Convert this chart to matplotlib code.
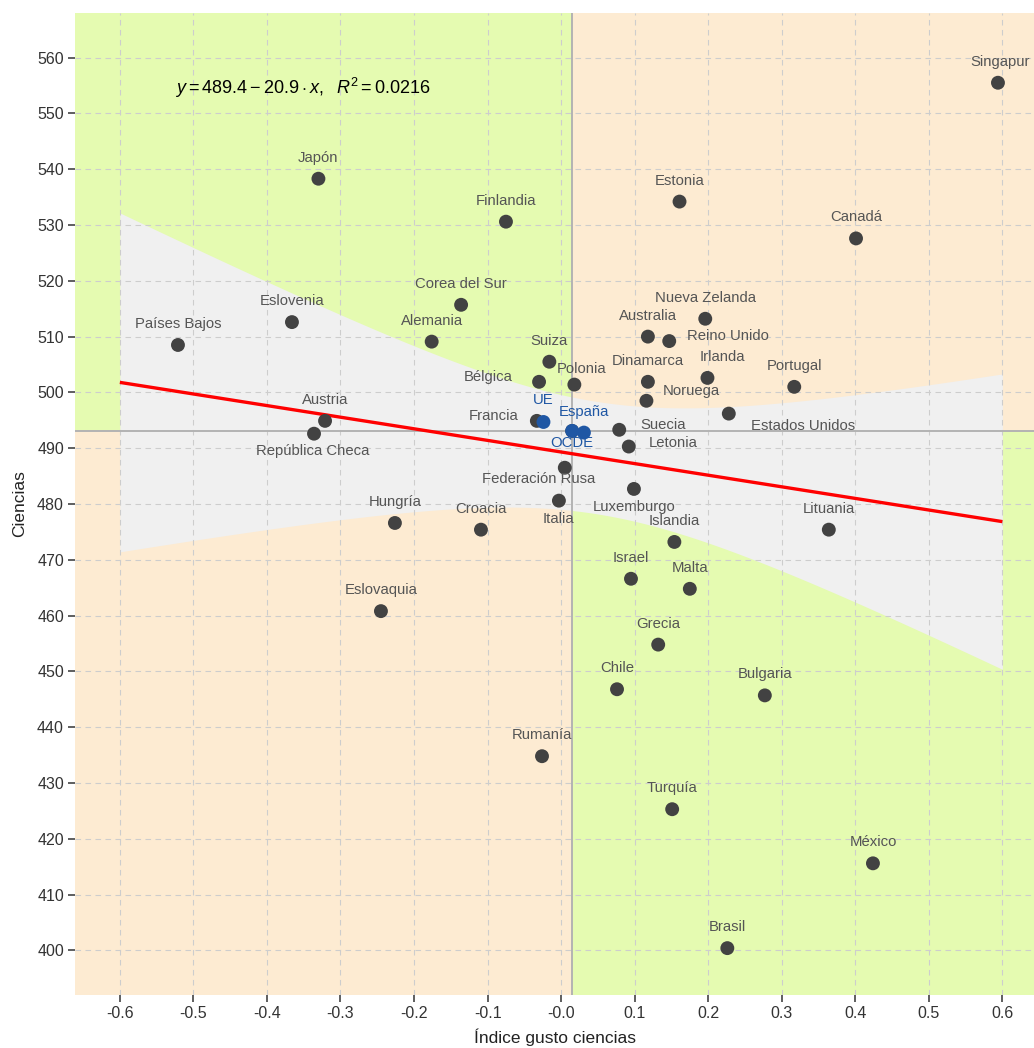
import numpy as np
import matplotlib
matplotlib.use('Agg')
import matplotlib.pyplot as plt

plt.rcParams['font.family'] = ['Liberation Sans', 'DejaVu Sans']
plt.rcParams['mathtext.fontset'] = 'custom'
plt.rcParams['mathtext.rm'] = 'Liberation Sans'
plt.rcParams['mathtext.it'] = 'Liberation Sans:italic'

# countries: gusto index (x) and science score (y)
paises = ['Singapur', 'Japón', 'Estonia', 'Finlandia', 'Canadá', 'Corea del Sur',
          'Eslovenia', 'Países Bajos', 'Alemania', 'Nueva Zelanda', 'Australia',
          'Reino Unido', 'Suiza', 'Bélgica', 'Polonia', 'Dinamarca', 'Irlanda',
          'Portugal', 'Noruega', 'Estados Unidos', 'Austria', 'Francia', 'Suecia',
          'República Checa', 'España', 'Letonia', 'Federación Rusa', 'Luxemburgo',
          'Italia', 'Hungría', 'Croacia', 'Lituania', 'Islandia', 'Israel', 'Malta',
          'Eslovaquia', 'Grecia', 'Chile', 'Bulgaria', 'Rumanía', 'Turquía',
          'México', 'Brasil']
gusto = [0.594, -0.330, 0.161, -0.075, 0.401, -0.136,
         -0.366, -0.521, -0.176, 0.196, 0.118,
         0.147, -0.016, -0.030, 0.018, 0.118, 0.199,
         0.317, 0.116, 0.228, -0.321, -0.033, 0.079,
         -0.336, 0.015, 0.092, 0.005, 0.099,
         -0.003, -0.226, -0.109, 0.364, 0.154, 0.095, 0.175,
         -0.245, 0.132, 0.076, 0.277, -0.026, 0.151,
         0.424, 0.226]
ciencias = [555.5, 538.3, 534.2, 530.6, 527.6, 515.7,
            512.6, 508.5, 509.1, 513.2, 510.0,
            509.2, 505.5, 501.9, 501.4, 501.9, 502.6,
            501.0, 498.5, 496.2, 494.9, 494.9, 493.3,
            492.6, 493.1, 490.3, 486.5, 482.7,
            480.6, 476.6, 475.4, 475.4, 473.2, 466.6, 464.8,
            460.8, 454.8, 446.8, 445.7, 434.8, 425.3,
            415.6, 400.4]

# aggregates shown in blue
agregados = ['UE', 'OCDE']
agr_gusto = [-0.024, 0.031]
agr_ciencias = [494.7, 492.8]

ecuacion = r'$y = 489.4 - 20.9 \cdot x,\ \ R^2 = 0.0216$'

# label offsets in pixels (dx, dy; dy positive = down)
offsets = {'Singapur': (2, -21), 'Reino Unido': (59, -5), 'Irlanda': (15, -21),
           'Bélgica': (-51, -5), 'Polonia': (7, -16), 'Noruega': (45, -10),
           'Estados Unidos': (74, 12), 'Francia': (-43, -5), 'UE': (0, -22),
           'Suecia': (44, -5), 'República Checa': (-1, 17), 'España': (12, -19),
           'OCDE': (-12, 10), 'Letonia': (44, -4), 'Federación Rusa': (-26, 11),
           'Luxemburgo': (0, 18), 'Italia': (0, 18)}

GREEN = '#e5fbb1'
ORANGE = '#fdebd2'
BAND = '#f0f0f0'
DOT = '#424242'
BLUE = '#1f57a4'
LAB = '#555555'

x = np.array(gusto)
y = np.array(ciencias)
x0 = x[paises.index('España')]
y0 = y[paises.index('España')]

fig = plt.figure(figsize=(10.34, 10.48), dpi=100)
ax = fig.add_axes([75 / 1034, 53 / 1048, 1 - 75 / 1034, (995 - 13) / 1048])
xmin, xmax = -0.661, 0.643
ymin, ymax = 392.0, 568.0
ax.set_xlim(xmin, xmax)
ax.set_ylim(ymin, ymax)

# quadrants
ax.fill_between([xmin, x0], y0, ymax, color=GREEN, lw=0, zorder=0)
ax.fill_between([x0, xmax], y0, ymax, color=ORANGE, lw=0, zorder=0)
ax.fill_between([xmin, x0], ymin, y0, color=ORANGE, lw=0, zorder=0)
ax.fill_between([x0, xmax], ymin, y0, color=GREEN, lw=0, zorder=0)

# linear fit and 95% confidence band
n = len(x)
b, a = np.polyfit(x, y, 1)
resid = y - (a + b * x)
s = np.sqrt(np.sum(resid ** 2) / (n - 2))
sxx = np.sum((x - x.mean()) ** 2)
xs = np.linspace(-0.6, 0.6, 200)
fit = a + b * xs
half = 2.02 * s * np.sqrt(1 / n + (xs - x.mean()) ** 2 / sxx)
ax.fill_between(xs, fit - half, fit + half, color=BAND, lw=0, zorder=1)

ax.set_axisbelow(False)
ax.grid(True, color='#cdcdcd', linestyle=(0, (5, 4)), linewidth=0.8, zorder=2)

ax.axvline(x0, color='#b3b3b3', lw=1.4, zorder=3)
ax.axhline(y0, color='#b3b3b3', lw=1.4, zorder=3)
ax.plot(xs, fit, color='#ff0000', lw=2.4, zorder=4, solid_capstyle='butt')

ax.scatter(x, y, s=100, color=DOT, edgecolors='none', zorder=5)
ax.scatter([x0], [y0], s=100, color=BLUE, edgecolors='none', zorder=6)
ax.scatter(agr_gusto, agr_ciencias, s=100, color=BLUE, edgecolors='none', zorder=6)

for name, xi, yi in zip(paises, gusto, ciencias):
    dx, dy = offsets.get(name, (0, -21))
    col = BLUE if name == 'España' else LAB
    ax.annotate(name, (xi, yi), xytext=(dx * 0.72, -dy * 0.72), textcoords='offset points',
                ha='center', va='center', fontsize=10.7, color=col, zorder=7)
for name, xi, yi in zip(agregados, agr_gusto, agr_ciencias):
    dx, dy = offsets.get(name, (0, -21))
    ax.annotate(name, (xi, yi), xytext=(dx * 0.72, -dy * 0.72), textcoords='offset points',
                ha='center', va='center', fontsize=10.7, color=BLUE, zorder=7)

ax.text(-0.351, 554.6, ecuacion, ha='center', va='center', fontsize=13, color='black', zorder=7)

ax.set_xticks(np.arange(-0.6, 0.61, 0.1))
ax.set_xticklabels(['%.1f' % v for v in np.arange(-0.6, 0.61, 0.1)])
ax.set_yticks(np.arange(400, 561, 10))
for sp in ax.spines.values():
    sp.set_visible(False)
ax.tick_params(colors='#333333', labelsize=11.5, length=5, width=1.1, pad=3,
               labelcolor='#333333')
ax.set_xlabel('Índice gusto ciencias', fontsize=12.5, color='#222222', labelpad=5)
ax.set_ylabel('Ciencias', fontsize=12.5, color='#222222', labelpad=7)

fig.savefig('out.png', dpi=100)
